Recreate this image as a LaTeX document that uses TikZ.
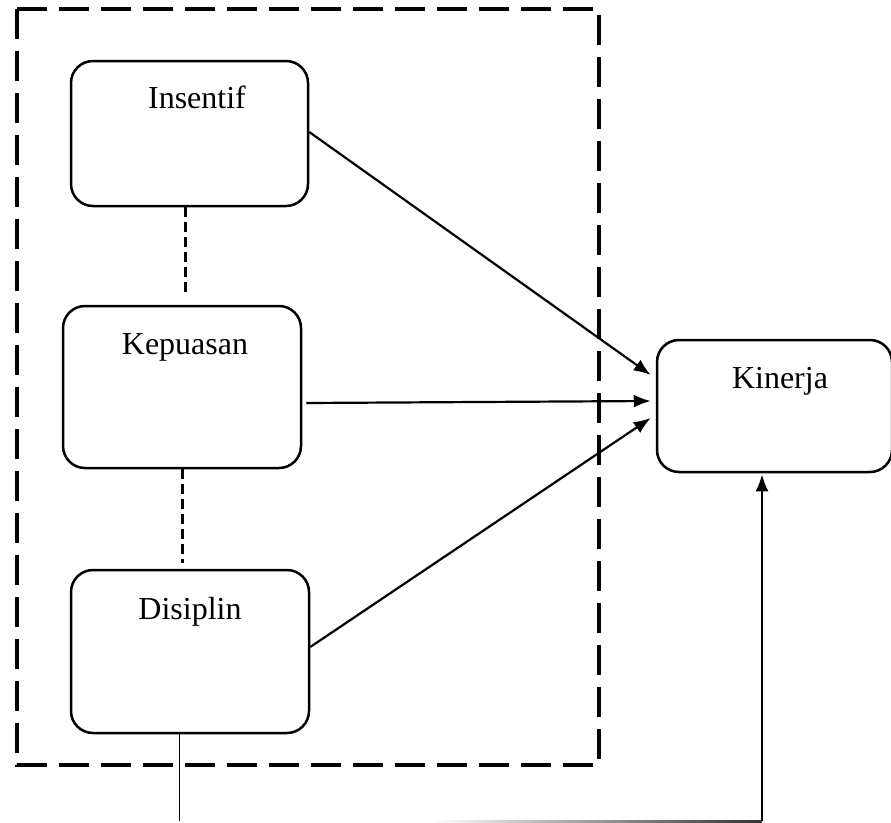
\documentclass[tikz,border=0pt]{standalone}
\usepackage{fontspec}
\setmainfont{Liberation Serif}
\usetikzlibrary{arrows.meta,calc}
\begin{document}
\begin{tikzpicture}[x=1pt,y=-1pt,
  box/.style={draw,line width=2.5pt,rounded corners=22pt,inner sep=0pt},
  lbl/.style={anchor=base,inner sep=0pt,font=\fontsize{32}{38}\selectfont},
  group/.style={draw,line width=4pt,dash pattern=on 30pt off 12pt},
  link/.style={draw,line width=3pt,dash pattern=on 10pt off 5pt},
  arr/.style={draw,line width=2.2pt,-{Latex[length=17pt,width=13pt]}}]
\useasboundingbox (0,0) rectangle (891,822);
% dashed group frame
\draw[group] (17,9) rectangle (599,765);
% boxes
\node[box,minimum width=237pt,minimum height=145pt] (ins) at (189.5,133.5) {};
\node[box,minimum width=238pt,minimum height=162pt] (kep) at (182,387) {};
\node[box,minimum width=238pt,minimum height=163pt] (dis) at (190,651.5) {};
\node[box,minimum width=235pt,minimum height=132pt] (kin) at (774.5,406) {};
% labels
\node[lbl] (ins-t) at (197,108) {Insentif};
\node[lbl] (kep-t) at (185,354) {Kepuasan};
\node[lbl] (dis-t) at (190,619) {Disiplin};
\node[lbl] (kin-t) at (780,388) {Kinerja};
% dashed links between variables
\draw[link] (ins.south -| 185,0) -- ([yshift=13pt]kep.north -| 185,0);
\draw[link] (kep.south -| 182,0) -- ([yshift=6pt]dis.north -| 182,0);
% arrows to Kinerja
\draw[arr] ([yshift=1.5pt]ins.east) -- ([xshift=-5pt,yshift=31pt]kin.west);
\draw[arr] ([xshift=4pt,yshift=-16pt]kep.east) -- ([xshift=-5pt,yshift=5pt]kin.west);
\draw[arr] ([yshift=4.5pt]dis.east) -- ([xshift=-5pt,yshift=-12pt]kin.west);
% bottom connector
\coordinate (b1) at (179,821);
\coordinate (b2) at (762,821);
\draw[line width=1pt] (dis.south -| b1) -- (b1);
\shade[left color=white,right color=black!80] (430,820) rectangle (762,822);
\draw[arr] (b2) -- ([yshift=-1pt]kin.south -| b2);
\end{tikzpicture}
\end{document}
